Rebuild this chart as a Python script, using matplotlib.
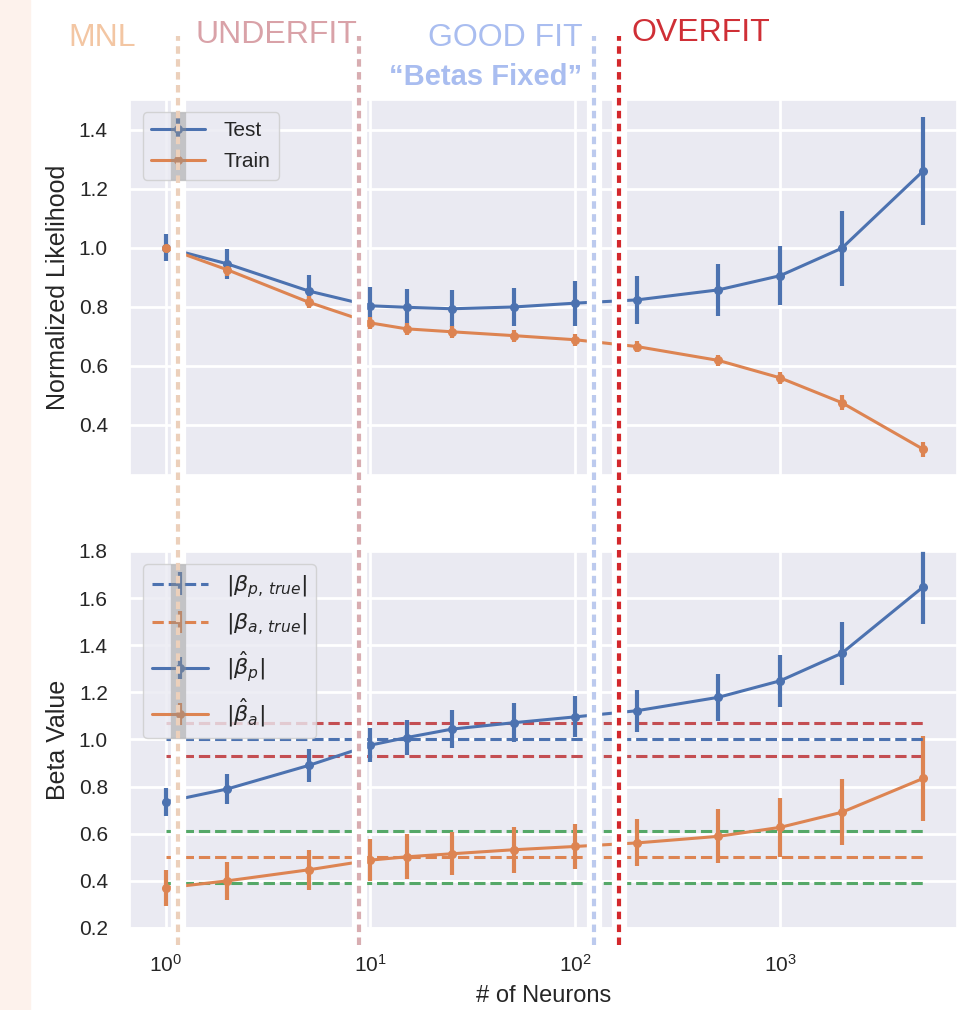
import matplotlib
matplotlib.use("Agg")
import matplotlib.pyplot as plt
import matplotlib.transforms as mtransforms
from matplotlib.lines import Line2D
from matplotlib.patches import Rectangle
import numpy as np
import seaborn as sns

# data
neurons = [1, 2, 5, 10, 15, 25, 50, 100, 200, 500, 1000, 2000, 5000]

test_mean = [1.00, 0.945, 0.853, 0.803, 0.798, 0.793, 0.799, 0.812, 0.823, 0.857, 0.905, 0.998, 1.26]
test_err = [0.045, 0.05, 0.055, 0.062, 0.063, 0.063, 0.065, 0.076, 0.08, 0.089, 0.10, 0.127, 0.183]
train_mean = [1.00, 0.925, 0.815, 0.745, 0.725, 0.715, 0.702, 0.688, 0.665, 0.618, 0.559, 0.475, 0.317]
train_err = [0.01, 0.02, 0.02, 0.02, 0.02, 0.02, 0.02, 0.02, 0.02, 0.02, 0.02, 0.025, 0.025]

beta_p_hat = [0.735, 0.79, 0.89, 0.976, 1.008, 1.044, 1.071, 1.096, 1.122, 1.179, 1.249, 1.366, 1.648]
beta_p_err = [0.06, 0.063, 0.07, 0.072, 0.075, 0.08, 0.082, 0.087, 0.09, 0.10, 0.11, 0.133, 0.16]
beta_a_hat = [0.37, 0.40, 0.447, 0.488, 0.502, 0.515, 0.532, 0.546, 0.561, 0.589, 0.627, 0.691, 0.835]
beta_a_err = [0.075, 0.08, 0.085, 0.09, 0.095, 0.092, 0.098, 0.095, 0.10, 0.115, 0.125, 0.14, 0.18]

beta_p_true = 1.0
beta_a_true = 0.5
beta_p_band = [1.07, 0.93]
beta_a_band = [0.61, 0.39]

# regime separators (x in # of neurons)
split_x = [1.15, 8.8, 123, 163]
split_names = ["MNL", "UNDERFIT", "GOOD FIT", "OVERFIT"]
split_text_col = ["#f3c6a3", "#d9a2a8", "#a9bdf0", "#cf2f36"]
split_line_col = ["#ecd0bb", "#d8adb1", "#bccaee", "#d3282c"]

sns.set_theme(style="darkgrid")
plt.rcParams['font.family'] = ['Liberation Sans', 'DejaVu Sans']
plt.rcParams['grid.linewidth'] = 2.0

blue, orange, green, red = sns.color_palette("deep")[:4]

fig = plt.figure(figsize=(9.79, 10.10), dpi=100)
fig.patch.set_facecolor("white")
fig.add_artist(Rectangle((0, 0), 30 / 979, 1, transform=fig.transFigure,
                         color="#fdf2ec", zorder=-10))

ax1 = fig.add_axes([0.1328, 0.5297, 0.8447, 0.3713])
ax2 = fig.add_axes([0.1328, 0.0812, 0.8447, 0.3733], sharex=ax1)

eb = dict(fmt='-o', lw=2.2, elinewidth=3, markersize=5.5, capsize=0)

ax1.errorbar(neurons, test_mean, yerr=test_err, color=blue, label="Test", **eb)
ax1.errorbar(neurons, train_mean, yerr=train_err, color=orange, label="Train", **eb)
ax1.set_xscale("log")
ax1.set_xlim(0.67, 7300)
ax1.set_ylim(0.23, 1.5)
ax1.set_yticks([0.4, 0.6, 0.8, 1.0, 1.2, 1.4])
ax1.set_ylabel("Normalized Likelihood", fontsize=18, labelpad=6)
ax1.tick_params(labelbottom=False)
ax1.tick_params(axis='y', labelsize=15, pad=10)

n = len(neurons)
ax2.errorbar(neurons, [beta_p_true] * n, yerr=[0] * n, fmt='--', lw=2.2,
             elinewidth=3, color=blue, label=r"$|\beta_{p,\,true}|$")
ax2.errorbar(neurons, [beta_a_true] * n, yerr=[0] * n, fmt='--', lw=2.2,
             elinewidth=3, color=orange, label=r"$|\beta_{a,\,true}|$")
for yv in beta_p_band:
    ax2.plot(neurons, [yv] * n, '--', lw=2.2, color=red)
for yv in beta_a_band:
    ax2.plot(neurons, [yv] * n, '--', lw=2.2, color=green)
ax2.errorbar(neurons, beta_p_hat, yerr=beta_p_err, color=blue,
             label=r"$|\hat{\beta}_p|$", **eb)
ax2.errorbar(neurons, beta_a_hat, yerr=beta_a_err, color=orange,
             label=r"$|\hat{\beta}_a|$", **eb)
ax2.set_ylim(0.2, 1.8)
ax2.set_yticks(np.arange(0.2, 1.81, 0.2))
ax2.set_ylabel("Beta Value", fontsize=18, labelpad=6)
ax2.set_xlabel("# of Neurons", fontsize=17, labelpad=6)
ax2.tick_params(axis='y', labelsize=15, pad=10)
ax2.tick_params(axis='x', labelsize=15, pad=13)
ax2.xaxis.set_minor_locator(matplotlib.ticker.NullLocator())

# legends live on the figure so the separator halo can sit underneath them
h1, l1 = ax1.get_legend_handles_labels()
leg1 = fig.legend(h1, l1, loc="upper left", bbox_to_anchor=(0, 1),
                  bbox_transform=ax1.transAxes, fontsize=15, handlelength=2.6,
                  handletextpad=0.9, labelspacing=0.6, borderaxespad=0.6)
h2, l2 = ax2.get_legend_handles_labels()
leg2 = fig.legend(h2, l2, loc="upper left", bbox_to_anchor=(0, 1),
                  bbox_transform=ax2.transAxes, fontsize=16, handlelength=2.5,
                  handletextpad=0.8, labelspacing=0.55, borderaxespad=0.6)
for lg in (leg1, leg2):
    lg.set_zorder(5)

# headers over the regimes
header_x = [102, 276, 505, 701]
header_y = [38, 35, 38, 33]
for name, col, hx, hy in zip(split_names, split_text_col, header_x, header_y):
    fig.text(hx / 979, 1 - hy / 1010, name, color=col, fontsize=23,
             ha="center", va="center")
fig.text(486 / 979, 1 - 77 / 1010, "\u201cBetas Fixed\u201d", color="#a9bdf0",
         fontsize=21, fontweight="bold", ha="center", va="center")

# vertical separators with a white halo
fig.canvas.draw()
inv = fig.transFigure.inverted()
trans = mtransforms.blended_transform_factory(ax2.transData, fig.transFigure)
y_top = 1 - 36 / 1010
y_bot = 1 - 945 / 1010
for i, (xv, col) in enumerate(zip(split_x, split_line_col)):
    fig.add_artist(Line2D([xv, xv], [y_bot, y_top], transform=trans,
                          color="white", lw=11, zorder=4,
                          solid_capstyle="butt"))
    if i == 0:
        for lg in (leg1, leg2):
            bb = inv.transform(lg.get_window_extent())
            fig.add_artist(Line2D([xv, xv], [bb[0][1], bb[1][1]], transform=trans,
                                  color="#909090", alpha=0.45, lw=11, zorder=5.5,
                                  solid_capstyle="butt"))
    fig.add_artist(Line2D([xv, xv], [y_bot, y_top], transform=trans,
                          color=col, lw=3, dashes=(1.8, 1.3), zorder=6))

fig.savefig("out.png", dpi=100)
